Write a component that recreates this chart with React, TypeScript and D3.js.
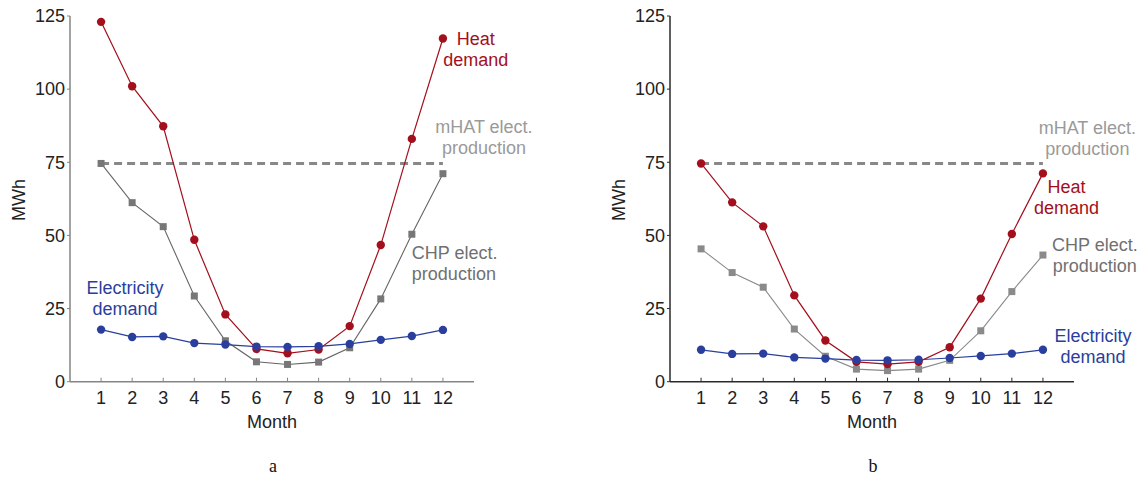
import React, { useRef, useEffect } from 'react';
import * as d3 from 'd3';

const months = [1, 2, 3, 4, 5, 6, 7, 8, 9, 10, 11, 12];
const yTicks = [0, 25, 50, 75, 100, 125];

// panel a
const heatA = [123, 101, 87.3, 48.5, 23, 11.2, 9.7, 11, 19, 46.7, 83, 117.3];
const chpA = [74.6, 61.2, 53, 29.3, 14, 6.8, 5.9, 6.7, 11.6, 28.3, 50.4, 71.1];
const elecA = [17.8, 15.3, 15.5, 13.2, 12.7, 12, 11.9, 12.1, 12.9, 14.3, 15.6, 17.7];

// panel b
const heatB = [74.6, 61.3, 53.1, 29.5, 14.1, 6.8, 6, 6.8, 11.8, 28.4, 50.5, 71.2];
const chpB = [45.4, 37.3, 32.3, 18, 8.7, 4.3, 3.8, 4.3, 7.3, 17.4, 30.8, 43.3];
const elecB = [10.9, 9.5, 9.6, 8.3, 7.9, 7.4, 7.3, 7.5, 8.1, 8.8, 9.6, 10.9];

const mhat = 74.6;

const RED = '#a30f1c';
const BLUE = '#2a3e9e';

const panels = [
  {
    id: 'a', offset: 0, axisColor: '#858585', chpLine: '#666', chpFill: '#777',
    heat: heatA, chp: chpA, elec: elecA,
    labels: [
      { lines: ['Heat', 'demand'], x: 13.06, v: 117.2, anchor: 'middle', color: RED },
      { lines: ['mHAT elect.', 'production'], x: 13.32, v: 87.1, anchor: 'middle', color: '#9a9a9a' },
      { lines: ['CHP elect.', 'production'], x: 11.0, v: 44, anchor: 'start', color: '#707070' },
      { lines: ['Electricity', 'demand'], x: 1.77, v: 32, anchor: 'middle', color: BLUE },
    ],
  },
  {
    id: 'b', offset: 600, axisColor: '#2a2a2a', chpLine: '#8a8a8a', chpFill: '#8a8a8a',
    heat: heatB, chp: chpB, elec: elecB,
    labels: [
      { lines: ['mHAT elect.', 'production'], x: 13.43, v: 86.7, anchor: 'middle', color: '#9a9a9a' },
      { lines: ['Heat', 'demand'], x: 12.76, v: 66.6, anchor: 'middle', color: RED },
      { lines: ['CHP elect.', 'production'], x: 13.67, v: 46.7, anchor: 'middle', color: '#707070' },
      { lines: ['Electricity', 'demand'], x: 13.61, v: 15.6, anchor: 'middle', color: BLUE },
    ],
  },
];

const App = () => {
  const svgRef = useRef(null);

  useEffect(() => {
    const svg = d3.select(svgRef.current);
    svg.selectAll('*').remove();
    const font = 'Liberation Sans, Arial, sans-serif';

    panels.forEach(p => {
      const g = svg.append('g').attr('transform', `translate(${p.offset},0)`);
      const x = d3.scaleLinear().domain([0, 13]).range([70, 474]);
      const y = d3.scaleLinear().domain([0, 125]).range([381.7, 16]);

      // axes
      g.append('line')
        .attr('x1', x(0)).attr('x2', x(0)).attr('y1', y(0)).attr('y2', y(125))
        .attr('stroke', p.axisColor).attr('stroke-width', 1.5);
      g.append('line')
        .attr('x1', x(0)).attr('x2', x(13)).attr('y1', y(0)).attr('y2', y(0))
        .attr('stroke', p.axisColor).attr('stroke-width', 1.5);

      yTicks.forEach(t => {
        g.append('line')
          .attr('x1', x(0) - 3).attr('x2', x(0)).attr('y1', y(t)).attr('y2', y(t))
          .attr('stroke', p.axisColor).attr('stroke-width', 1);
        g.append('text')
          .attr('x', x(0) - 5).attr('y', y(t)).attr('dy', '0.35em')
          .attr('text-anchor', 'end').attr('font-family', font).attr('font-size', 18)
          .attr('fill', '#222').text(t);
      });
      months.forEach(m => {
        g.append('line')
          .attr('x1', x(m)).attr('x2', x(m)).attr('y1', y(0)).attr('y2', y(0) - 4)
          .attr('stroke', p.axisColor).attr('stroke-width', 1);
        g.append('text')
          .attr('x', x(m)).attr('y', y(0) + 16).attr('dy', '0.35em')
          .attr('text-anchor', 'middle').attr('font-family', font).attr('font-size', 18)
          .attr('fill', '#222').text(m);
      });

      g.append('text')
        .attr('x', 272).attr('y', 422).attr('dy', '0.35em')
        .attr('text-anchor', 'middle').attr('font-family', font).attr('font-size', 18)
        .attr('fill', '#222').text('Month');
      g.append('text')
        .attr('transform', `translate(19,200) rotate(-90)`).attr('dy', '0.35em')
        .attr('text-anchor', 'middle').attr('font-family', font).attr('font-size', 18)
        .attr('fill', '#222').text('MWh');
      g.append('text')
        .attr('x', 273).attr('y', 466).attr('dy', '0.35em')
        .attr('text-anchor', 'middle').attr('font-family', 'Liberation Serif, Times New Roman, serif')
        .attr('font-size', 18).attr('fill', '#111').text(p.id);

      // mHAT dashed line
      g.append('line')
        .attr('x1', x(1)).attr('x2', x(12)).attr('y1', y(mhat)).attr('y2', y(mhat))
        .attr('stroke', '#888').attr('stroke-width', 3).attr('stroke-dasharray', '8,5');

      const line = d3.line().x((d, i) => x(months[i])).y(d => y(d));

      // CHP production
      g.append('path').datum(p.chp)
        .attr('fill', 'none').attr('stroke', p.chpLine).attr('stroke-width', 1.1).attr('d', line);
      g.selectAll('rect.chp').data(p.chp).enter().append('rect')
        .attr('class', 'chp')
        .attr('x', (d, i) => x(months[i]) - 3.5).attr('y', d => y(d) - 3.5)
        .attr('width', 7).attr('height', 7).attr('fill', p.chpFill);

      // heat demand
      g.append('path').datum(p.heat)
        .attr('fill', 'none').attr('stroke', RED).attr('stroke-width', 1.2).attr('d', line);
      g.selectAll('circle.heat').data(p.heat).enter().append('circle')
        .attr('class', 'heat')
        .attr('cx', (d, i) => x(months[i])).attr('cy', d => y(d))
        .attr('r', 4.2).attr('fill', RED);

      // electricity demand
      g.append('path').datum(p.elec)
        .attr('fill', 'none').attr('stroke', BLUE).attr('stroke-width', 1.2).attr('d', line);
      g.selectAll('circle.elec').data(p.elec).enter().append('circle')
        .attr('class', 'elec')
        .attr('cx', (d, i) => x(months[i])).attr('cy', d => y(d))
        .attr('r', 4.2).attr('fill', BLUE);

      // annotations
      p.labels.forEach(l => {
        l.lines.forEach((txt, k) => {
          g.append('text')
            .attr('x', x(l.x)).attr('y', y(l.v) + k * 21).attr('dy', '0.35em')
            .attr('text-anchor', l.anchor).attr('font-family', font).attr('font-size', 18)
            .attr('fill', l.color).text(txt);
        });
      });
    });
  }, []);

  return (
    <svg ref={svgRef} width={1148} height={477}
      style={{ position: 'absolute', left: 0, top: 0, background: '#fff' }} />
  );
};

export default App;
